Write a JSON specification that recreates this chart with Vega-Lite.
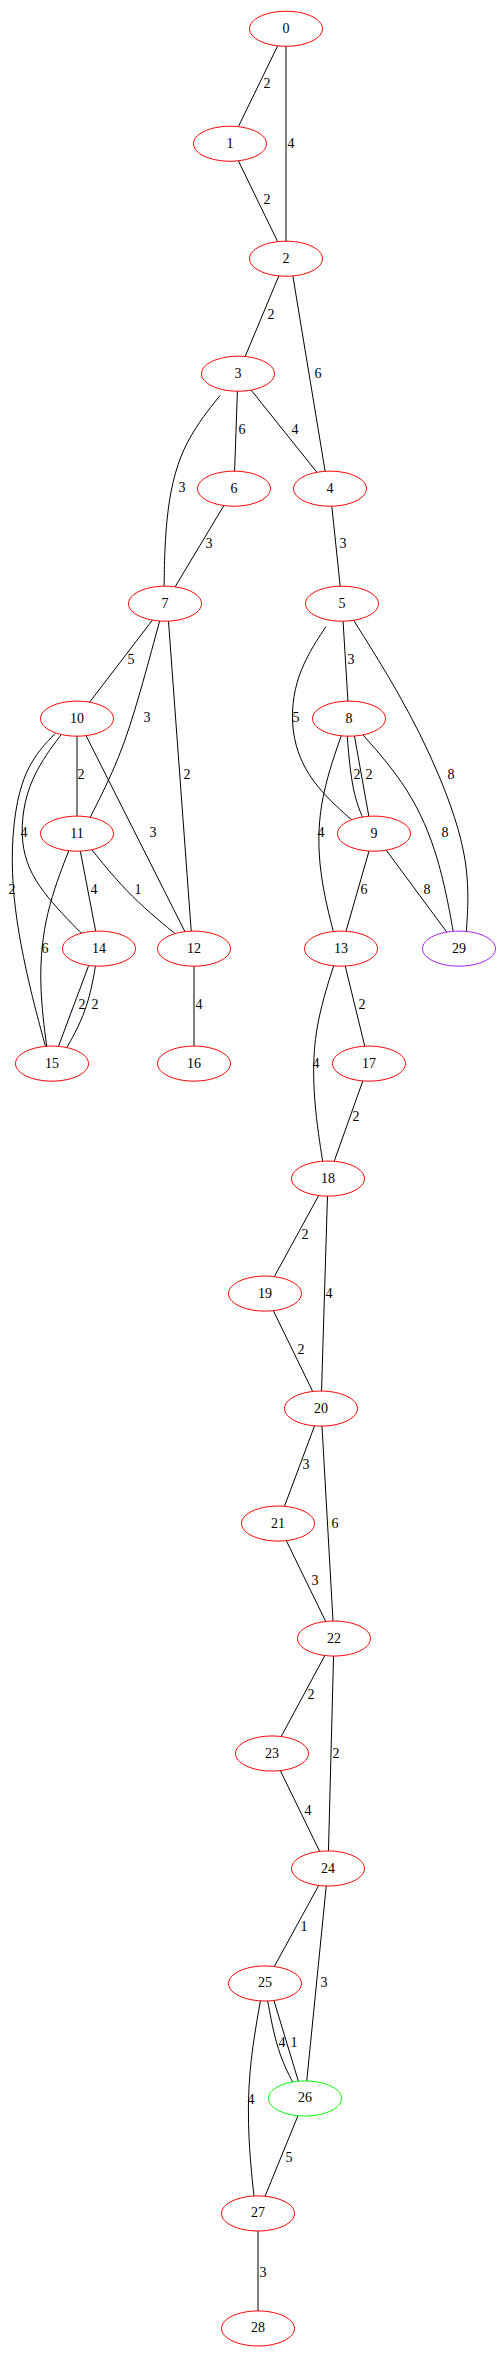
{
  "$schema": "https://vega.github.io/schema/vega-lite/v6.json",
  "width": 500,
  "height": 2379,
  "padding": 0,
  "autosize": {"type": "none"},
  "datasets": {
    "nodes": [
      {"id": "0", "x": 286, "y": 29, "c": "red"},
      {"id": "1", "x": 230, "y": 145, "c": "red"},
      {"id": "2", "x": 286, "y": 261, "c": "red"},
      {"id": "3", "x": 238, "y": 377, "c": "red"},
      {"id": "6", "x": 234, "y": 493, "c": "red"},
      {"id": "4", "x": 330, "y": 493, "c": "red"},
      {"id": "7", "x": 165, "y": 609, "c": "red"},
      {"id": "5", "x": 342, "y": 609, "c": "red"},
      {"id": "10", "x": 77, "y": 725, "c": "red"},
      {"id": "8", "x": 349, "y": 725, "c": "red"},
      {"id": "11", "x": 77, "y": 841, "c": "red"},
      {"id": "9", "x": 374, "y": 841, "c": "red"},
      {"id": "14", "x": 99, "y": 957, "c": "red"},
      {"id": "12", "x": 194, "y": 957, "c": "red"},
      {"id": "13", "x": 341, "y": 957, "c": "red"},
      {"id": "29", "x": 459, "y": 957, "c": "purple"},
      {"id": "15", "x": 52, "y": 1073, "c": "red"},
      {"id": "16", "x": 194, "y": 1073, "c": "red"},
      {"id": "17", "x": 369, "y": 1073, "c": "red"},
      {"id": "18", "x": 328, "y": 1189, "c": "red"},
      {"id": "19", "x": 265, "y": 1305, "c": "red"},
      {"id": "20", "x": 321, "y": 1421, "c": "red"},
      {"id": "21", "x": 278, "y": 1537, "c": "red"},
      {"id": "22", "x": 334, "y": 1653, "c": "red"},
      {"id": "23", "x": 272, "y": 1769, "c": "red"},
      {"id": "24", "x": 328, "y": 1885, "c": "red"},
      {"id": "25", "x": 265, "y": 2001, "c": "red"},
      {"id": "26", "x": 305, "y": 2117, "c": "green"},
      {"id": "27", "x": 258, "y": 2233, "c": "red"},
      {"id": "28", "x": 258, "y": 2349, "c": "red"}
    ],
    "edges": [
      {"e": "0-1", "o": 0, "x": 286, "y": 29}, {"e": "0-1", "o": 1, "x": 230, "y": 145},
      {"e": "0-2", "o": 0, "x": 286, "y": 29}, {"e": "0-2", "o": 1, "x": 286, "y": 261},
      {"e": "1-2", "o": 0, "x": 230, "y": 145}, {"e": "1-2", "o": 1, "x": 286, "y": 261},
      {"e": "2-3", "o": 0, "x": 286, "y": 261}, {"e": "2-3", "o": 1, "x": 238, "y": 377},
      {"e": "2-4", "o": 0, "x": 290, "y": 261}, {"e": "2-4", "o": 1, "x": 328, "y": 493},
      {"e": "3-6", "o": 0, "x": 238, "y": 377}, {"e": "3-6", "o": 1, "x": 234, "y": 493},
      {"e": "3-4", "o": 0, "x": 238, "y": 377}, {"e": "3-4", "o": 1, "x": 330, "y": 493},
      {"e": "3-7", "o": 0, "x": 220, "y": 399}, {"e": "3-7", "o": 1, "x": 180, "y": 450}, {"e": "3-7", "o": 2, "x": 165, "y": 520}, {"e": "3-7", "o": 3, "x": 164, "y": 600},
      {"e": "6-7", "o": 0, "x": 234, "y": 493}, {"e": "6-7", "o": 1, "x": 165, "y": 609},
      {"e": "4-5", "o": 0, "x": 330, "y": 493}, {"e": "4-5", "o": 1, "x": 342, "y": 609},
      {"e": "7-10", "o": 0, "x": 165, "y": 609}, {"e": "7-10", "o": 1, "x": 77, "y": 725},
      {"e": "7-11", "o": 0, "x": 160, "y": 625}, {"e": "7-11", "o": 1, "x": 140, "y": 700}, {"e": "7-11", "o": 2, "x": 120, "y": 765}, {"e": "7-11", "o": 3, "x": 90, "y": 825},
      {"e": "7-12", "o": 0, "x": 168, "y": 620}, {"e": "7-12", "o": 1, "x": 192, "y": 950},
      {"e": "5-8", "o": 0, "x": 342, "y": 609}, {"e": "5-8", "o": 1, "x": 349, "y": 725},
      {"e": "5-9", "o": 0, "x": 326, "y": 632}, {"e": "5-9", "o": 1, "x": 295, "y": 680}, {"e": "5-9", "o": 2, "x": 289, "y": 740}, {"e": "5-9", "o": 3, "x": 310, "y": 790}, {"e": "5-9", "o": 4, "x": 355, "y": 830},
      {"e": "5-29", "o": 0, "x": 350, "y": 620}, {"e": "5-29", "o": 1, "x": 400, "y": 700}, {"e": "5-29", "o": 2, "x": 440, "y": 780}, {"e": "5-29", "o": 3, "x": 471, "y": 870}, {"e": "5-29", "o": 4, "x": 466, "y": 945},
      {"e": "10-11", "o": 0, "x": 77, "y": 725}, {"e": "10-11", "o": 1, "x": 77, "y": 841},
      {"e": "10-12", "o": 0, "x": 80, "y": 730}, {"e": "10-12", "o": 1, "x": 190, "y": 950},
      {"e": "10-14", "o": 0, "x": 62, "y": 740}, {"e": "10-14", "o": 1, "x": 25, "y": 790}, {"e": "10-14", "o": 2, "x": 18, "y": 860}, {"e": "10-14", "o": 3, "x": 45, "y": 905}, {"e": "10-14", "o": 4, "x": 90, "y": 950},
      {"e": "10-15", "o": 0, "x": 55, "y": 740}, {"e": "10-15", "o": 1, "x": 18, "y": 780}, {"e": "10-15", "o": 2, "x": 8, "y": 880}, {"e": "10-15", "o": 3, "x": 25, "y": 980}, {"e": "10-15", "o": 4, "x": 48, "y": 1065},
      {"e": "8-9a", "o": 0, "x": 347, "y": 740}, {"e": "8-9a", "o": 1, "x": 352, "y": 800}, {"e": "8-9a", "o": 2, "x": 365, "y": 830},
      {"e": "8-9b", "o": 0, "x": 354, "y": 740}, {"e": "8-9b", "o": 1, "x": 370, "y": 830},
      {"e": "8-13", "o": 0, "x": 342, "y": 740}, {"e": "8-13", "o": 1, "x": 318, "y": 810}, {"e": "8-13", "o": 2, "x": 318, "y": 880}, {"e": "8-13", "o": 3, "x": 336, "y": 950},
      {"e": "8-29", "o": 0, "x": 360, "y": 738}, {"e": "8-29", "o": 1, "x": 410, "y": 795}, {"e": "8-29", "o": 2, "x": 440, "y": 865}, {"e": "8-29", "o": 3, "x": 455, "y": 950},
      {"e": "11-14", "o": 0, "x": 77, "y": 841}, {"e": "11-14", "o": 1, "x": 99, "y": 957},
      {"e": "11-12", "o": 0, "x": 90, "y": 855}, {"e": "11-12", "o": 1, "x": 130, "y": 905}, {"e": "11-12", "o": 2, "x": 185, "y": 950},
      {"e": "11-15", "o": 0, "x": 70, "y": 855}, {"e": "11-15", "o": 1, "x": 45, "y": 920}, {"e": "11-15", "o": 2, "x": 38, "y": 990}, {"e": "11-15", "o": 3, "x": 48, "y": 1065},
      {"e": "9-13", "o": 0, "x": 374, "y": 841}, {"e": "9-13", "o": 1, "x": 341, "y": 957},
      {"e": "9-29", "o": 0, "x": 374, "y": 841}, {"e": "9-29", "o": 1, "x": 459, "y": 957},
      {"e": "14-15a", "o": 0, "x": 92, "y": 965}, {"e": "14-15a", "o": 1, "x": 55, "y": 1065},
      {"e": "14-15b", "o": 0, "x": 97, "y": 965}, {"e": "14-15b", "o": 1, "x": 88, "y": 1020}, {"e": "14-15b", "o": 2, "x": 62, "y": 1065},
      {"e": "12-16", "o": 0, "x": 194, "y": 957}, {"e": "12-16", "o": 1, "x": 194, "y": 1073},
      {"e": "13-17", "o": 0, "x": 341, "y": 957}, {"e": "13-17", "o": 1, "x": 369, "y": 1073},
      {"e": "13-18", "o": 0, "x": 335, "y": 970}, {"e": "13-18", "o": 1, "x": 313, "y": 1040}, {"e": "13-18", "o": 2, "x": 313, "y": 1110}, {"e": "13-18", "o": 3, "x": 324, "y": 1180},
      {"e": "17-18", "o": 0, "x": 369, "y": 1073}, {"e": "17-18", "o": 1, "x": 328, "y": 1189},
      {"e": "18-19", "o": 0, "x": 328, "y": 1189}, {"e": "18-19", "o": 1, "x": 265, "y": 1305},
      {"e": "18-20", "o": 0, "x": 328, "y": 1189}, {"e": "18-20", "o": 1, "x": 321, "y": 1421},
      {"e": "19-20", "o": 0, "x": 265, "y": 1305}, {"e": "19-20", "o": 1, "x": 321, "y": 1421},
      {"e": "20-21", "o": 0, "x": 321, "y": 1421}, {"e": "20-21", "o": 1, "x": 278, "y": 1537},
      {"e": "20-22", "o": 0, "x": 321, "y": 1421}, {"e": "20-22", "o": 1, "x": 334, "y": 1653},
      {"e": "21-22", "o": 0, "x": 278, "y": 1537}, {"e": "21-22", "o": 1, "x": 334, "y": 1653},
      {"e": "22-23", "o": 0, "x": 334, "y": 1653}, {"e": "22-23", "o": 1, "x": 272, "y": 1769},
      {"e": "22-24", "o": 0, "x": 334, "y": 1653}, {"e": "22-24", "o": 1, "x": 328, "y": 1885},
      {"e": "23-24", "o": 0, "x": 272, "y": 1769}, {"e": "23-24", "o": 1, "x": 328, "y": 1885},
      {"e": "24-25", "o": 0, "x": 328, "y": 1885}, {"e": "24-25", "o": 1, "x": 265, "y": 2001},
      {"e": "24-26", "o": 0, "x": 328, "y": 1885}, {"e": "24-26", "o": 1, "x": 305, "y": 2117},
      {"e": "25-26a", "o": 0, "x": 267, "y": 2015}, {"e": "25-26a", "o": 1, "x": 277, "y": 2070}, {"e": "25-26a", "o": 2, "x": 295, "y": 2105},
      {"e": "25-26b", "o": 0, "x": 273, "y": 2015}, {"e": "25-26b", "o": 1, "x": 300, "y": 2105},
      {"e": "25-27", "o": 0, "x": 261, "y": 2015}, {"e": "25-27", "o": 1, "x": 248, "y": 2090}, {"e": "25-27", "o": 2, "x": 248, "y": 2160}, {"e": "25-27", "o": 3, "x": 255, "y": 2225},
      {"e": "26-27", "o": 0, "x": 305, "y": 2117}, {"e": "26-27", "o": 1, "x": 258, "y": 2233},
      {"e": "27-28", "o": 0, "x": 258, "y": 2233}, {"e": "27-28", "o": 1, "x": 258, "y": 2349}
    ],
    "labels": [
      {"t": "2", "x": 267, "y": 85}, {"t": "4", "x": 291, "y": 145}, {"t": "2", "x": 267, "y": 202},
      {"t": "2", "x": 271, "y": 318}, {"t": "6", "x": 318, "y": 377}, {"t": "6", "x": 242, "y": 434},
      {"t": "4", "x": 295, "y": 434}, {"t": "3", "x": 182, "y": 492}, {"t": "3", "x": 209, "y": 549},
      {"t": "3", "x": 343, "y": 549}, {"t": "5", "x": 131, "y": 666}, {"t": "3", "x": 147, "y": 724},
      {"t": "2", "x": 187, "y": 782}, {"t": "3", "x": 351, "y": 666}, {"t": "5", "x": 296, "y": 724},
      {"t": "8", "x": 451, "y": 782}, {"t": "2", "x": 81, "y": 782}, {"t": "3", "x": 153, "y": 840},
      {"t": "4", "x": 24, "y": 840}, {"t": "2", "x": 12, "y": 898}, {"t": "2", "x": 357, "y": 782},
      {"t": "2", "x": 369, "y": 782}, {"t": "4", "x": 321, "y": 840}, {"t": "8", "x": 445, "y": 840},
      {"t": "4", "x": 94, "y": 898}, {"t": "1", "x": 138, "y": 898}, {"t": "6", "x": 45, "y": 957},
      {"t": "6", "x": 364, "y": 898}, {"t": "8", "x": 427, "y": 898}, {"t": "2", "x": 82, "y": 1014},
      {"t": "2", "x": 95, "y": 1014}, {"t": "4", "x": 199, "y": 1014}, {"t": "2", "x": 362, "y": 1014},
      {"t": "4", "x": 316, "y": 1073}, {"t": "2", "x": 356, "y": 1127}, {"t": "2", "x": 305, "y": 1246},
      {"t": "4", "x": 329, "y": 1305}, {"t": "2", "x": 301, "y": 1362}, {"t": "3", "x": 306, "y": 1478},
      {"t": "6", "x": 335, "y": 1537}, {"t": "3", "x": 315, "y": 1595}, {"t": "2", "x": 311, "y": 1710},
      {"t": "2", "x": 336, "y": 1769}, {"t": "4", "x": 308, "y": 1827}, {"t": "1", "x": 304, "y": 1944},
      {"t": "3", "x": 324, "y": 2001}, {"t": "4", "x": 282, "y": 2061}, {"t": "1", "x": 294, "y": 2061},
      {"t": "4", "x": 251, "y": 2119}, {"t": "5", "x": 289, "y": 2177}, {"t": "3", "x": 263, "y": 2293}
    ]
  },
  "layer": [
    {
      "data": {"name": "edges"},
      "mark": {"type": "line", "interpolate": "basis", "color": "black", "strokeWidth": 1},
      "encoding": {
        "x": {"field": "x", "type": "quantitative", "scale": {"domain": [0, 500]}, "axis": null},
        "y": {"field": "y", "type": "quantitative", "scale": {"domain": [2379, 0]}, "axis": null},
        "detail": {"field": "e"},
        "order": {"field": "o"}
      }
    },
    {
      "data": {"name": "labels"},
      "mark": {"type": "text", "font": "Liberation Serif", "fontSize": 14, "align": "center", "baseline": "middle"},
      "encoding": {
        "x": {"field": "x", "type": "quantitative"},
        "y": {"field": "y", "type": "quantitative"},
        "text": {"field": "t"}
      }
    },
    {
      "data": {"name": "nodes"},
      "mark": {
        "type": "point",
        "shape": "M-1,0A1,0.48 0 1,0 1,0A1,0.48 0 1,0 -1,0Z",
        "size": 5329,
        "filled": true,
        "fill": "white",
        "fillOpacity": 1,
        "strokeWidth": 1,
        "opacity": 1
      },
      "encoding": {
        "x": {"field": "x", "type": "quantitative"},
        "y": {"field": "y", "type": "quantitative"},
        "stroke": {"field": "c", "type": "nominal", "scale": {"domain": ["red", "purple", "green"], "range": ["#ff0000", "#a020f0", "#00ff00"]}, "legend": null}
      }
    },
    {
      "data": {"name": "nodes"},
      "mark": {"type": "text", "font": "Liberation Serif", "fontSize": 14, "align": "center", "baseline": "middle"},
      "encoding": {
        "x": {"field": "x", "type": "quantitative"},
        "y": {"field": "y", "type": "quantitative"},
        "text": {"field": "id"}
      }
    }
  ],
  "config": {"view": {"stroke": null}}
}
